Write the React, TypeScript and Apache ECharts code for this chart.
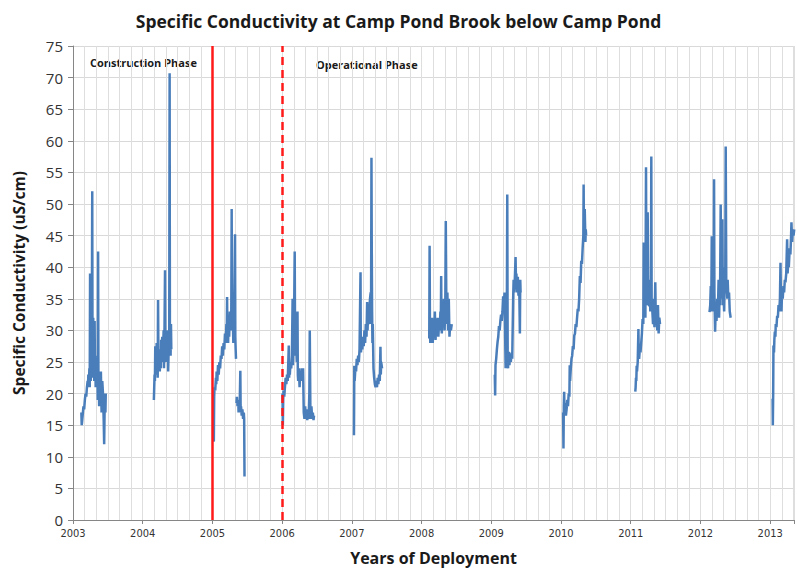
import React, { useEffect, useRef } from "react";
import * as echarts from "echarts";

// Decimal-year time stamps and conductivity (uS/cm), one pair of arrays per deployment season
const t2003 = [2003.12, 2003.125, 2003.13, 2003.15, 2003.16, 2003.17, 2003.18, 2003.19, 2003.2, 2003.21, 2003.215, 2003.22, 2003.23, 2003.235, 2003.24, 2003.245, 2003.25, 2003.255, 2003.26, 2003.265, 2003.27, 2003.276, 2003.28, 2003.285, 2003.29, 2003.295, 2003.3, 2003.305, 2003.31, 2003.315, 2003.32, 2003.325, 2003.33, 2003.345, 2003.35, 2003.355, 2003.36, 2003.365, 2003.37, 2003.375, 2003.38, 2003.39, 2003.4, 2003.41, 2003.42, 2003.43, 2003.44, 2003.447, 2003.455, 2003.46, 2003.465, 2003.47];
const v2003 = [17, 15, 15.5, 18, 17.5, 19, 20, 19.5, 21, 22, 21, 23, 22, 24, 21, 39, 24, 22, 28, 23, 30, 52, 25, 22.5, 32, 24, 27, 22, 31.5, 23, 26, 21, 24, 22, 25, 19, 42.5, 22, 23, 18, 22, 20, 23.5, 17, 22, 20, 16, 12, 19, 20, 17, 20];

const t2004 = [2004.16, 2004.165, 2004.17, 2004.175, 2004.18, 2004.185, 2004.19, 2004.195, 2004.2, 2004.205, 2004.21, 2004.215, 2004.22, 2004.225, 2004.23, 2004.24, 2004.245, 2004.25, 2004.26, 2004.265, 2004.27, 2004.28, 2004.29, 2004.3, 2004.305, 2004.31, 2004.32, 2004.325, 2004.33, 2004.335, 2004.34, 2004.35, 2004.36, 2004.365, 2004.37, 2004.38, 2004.386, 2004.39, 2004.4, 2004.405, 2004.41];
const v2004 = [19, 21, 23, 22, 27.5, 24, 26, 23, 28, 25, 27, 22.5, 34.8, 26, 24, 27, 23.5, 26, 24, 28.5, 25, 29, 26, 30, 24, 27, 39.5, 27, 28, 25, 29, 26, 30, 23.5, 26, 28, 70.7, 29, 26, 31, 27];

const t2005a = [2005.015, 2005.02, 2005.025, 2005.03, 2005.04, 2005.05, 2005.055, 2005.06, 2005.07, 2005.08, 2005.09, 2005.1, 2005.11, 2005.12, 2005.13, 2005.14, 2005.15, 2005.16, 2005.17, 2005.18, 2005.19, 2005.2, 2005.205, 2005.21, 2005.215, 2005.22, 2005.225, 2005.23, 2005.24, 2005.25, 2005.26, 2005.27, 2005.276, 2005.28, 2005.29, 2005.3, 2005.31, 2005.324, 2005.328, 2005.333, 2005.338];
const v2005a = [20, 12.4, 19.5, 21, 20.5, 22.5, 21.5, 23.5, 22, 24.5, 23, 25, 24, 26, 25.5, 27.5, 26, 28, 27, 29.5, 28, 31, 28.5, 35.3, 29, 31, 28, 32, 29, 33, 30, 32, 49.2, 30, 33, 28, 31, 45.2, 29, 27, 25.5];

const t2005b = [2005.345, 2005.35, 2005.36, 2005.37, 2005.375, 2005.38, 2005.39, 2005.4, 2005.405, 2005.41, 2005.42, 2005.43, 2005.44, 2005.45, 2005.455, 2005.46];
const v2005b = [18.5, 19.5, 18, 19, 17, 18.5, 17.5, 23.6, 17, 18, 16.5, 17.5, 16, 17, 16, 6.9];

const t2006 = [2006.005, 2006.01, 2006.015, 2006.02, 2006.03, 2006.04, 2006.05, 2006.06, 2006.07, 2006.08, 2006.095, 2006.1, 2006.105, 2006.11, 2006.12, 2006.13, 2006.14, 2006.15, 2006.155, 2006.16, 2006.17, 2006.18, 2006.185, 2006.19, 2006.2, 2006.21, 2006.22, 2006.225, 2006.23, 2006.24, 2006.25, 2006.26, 2006.27, 2006.28, 2006.29, 2006.3, 2006.31, 2006.32, 2006.33, 2006.34, 2006.35, 2006.36, 2006.37, 2006.38, 2006.39, 2006.396, 2006.405, 2006.41, 2006.42, 2006.43, 2006.44, 2006.45, 2006.457];
const v2006 = [20, 15, 19, 20.5, 19.5, 21, 22.5, 21.5, 23, 22, 27.6, 22.5, 24, 23, 25, 24, 26, 35, 24.5, 27, 31, 42.5, 29, 26, 28, 25, 33, 23, 22, 24, 21, 23.5, 22, 24, 22.5, 24, 17, 16, 18, 16, 17.5, 15.8, 17, 16, 20, 30, 17, 16, 18, 16, 17, 15.8, 16.5];

const t2007 = [2007.03, 2007.035, 2007.04, 2007.05, 2007.06, 2007.07, 2007.08, 2007.09, 2007.1, 2007.11, 2007.124, 2007.128, 2007.13, 2007.14, 2007.15, 2007.16, 2007.17, 2007.18, 2007.19, 2007.2, 2007.21, 2007.219, 2007.225, 2007.23, 2007.24, 2007.25, 2007.26, 2007.27, 2007.275, 2007.281, 2007.285, 2007.29, 2007.295, 2007.3, 2007.31, 2007.32, 2007.33, 2007.34, 2007.35, 2007.36, 2007.37, 2007.38, 2007.39, 2007.4, 2007.41, 2007.415, 2007.42, 2007.433];
const v2007 = [13.4, 24.4, 22, 24, 23.5, 25.5, 24.5, 26, 25, 27, 39.2, 27, 26.5, 28, 27, 29, 27.5, 30, 28, 31, 29, 34.5, 30, 32, 31, 33, 35, 36, 31, 57.3, 43.9, 33, 28, 31, 24, 22.5, 21.5, 21, 22, 21, 22.5, 21.5, 23, 22, 27.4, 23, 25, 24];

const t2008 = [2008.11, 2008.115, 2008.12, 2008.125, 2008.13, 2008.14, 2008.15, 2008.16, 2008.17, 2008.18, 2008.19, 2008.2, 2008.21, 2008.22, 2008.23, 2008.24, 2008.25, 2008.26, 2008.27, 2008.275, 2008.281, 2008.285, 2008.29, 2008.3, 2008.31, 2008.32, 2008.33, 2008.34, 2008.347, 2008.355, 2008.36, 2008.37, 2008.38, 2008.39, 2008.4, 2008.41, 2008.42, 2008.433];
const v2008 = [28.7, 43.4, 30, 28, 31, 29, 32, 28, 30.5, 29, 33, 28.5, 31, 29.5, 32, 29, 31, 30, 33, 30, 38.6, 31, 29.5, 33, 31, 35, 30, 34, 47.3, 34, 31, 36, 30, 35, 29, 31, 30, 31];

const t2009 = [2009.05, 2009.055, 2009.06, 2009.07, 2009.08, 2009.09, 2009.1, 2009.11, 2009.12, 2009.13, 2009.14, 2009.15, 2009.16, 2009.17, 2009.18, 2009.19, 2009.205, 2009.21, 2009.22, 2009.229, 2009.235, 2009.24, 2009.25, 2009.26, 2009.27, 2009.28, 2009.29, 2009.3, 2009.314, 2009.32, 2009.33, 2009.34, 2009.348, 2009.355, 2009.36, 2009.37, 2009.38, 2009.39, 2009.4, 2009.41, 2009.415, 2009.42];
const v2009 = [23, 19.7, 24.5, 25.5, 27, 28.2, 29, 30.7, 30, 31.5, 32.5, 31.5, 33, 35.4, 34, 36, 24, 26, 24.5, 51.5, 25, 24, 26.6, 24.5, 26, 25, 26.5, 25.5, 35.4, 38, 36, 39, 41.6, 37, 39, 36, 38.5, 35.5, 37.5, 29.5, 38, 36];

const t2010 = [2010.03, 2010.035, 2010.04, 2010.045, 2010.05, 2010.06, 2010.07, 2010.08, 2010.09, 2010.1, 2010.11, 2010.12, 2010.125, 2010.13, 2010.14, 2010.15, 2010.16, 2010.17, 2010.18, 2010.19, 2010.2, 2010.21, 2010.22, 2010.23, 2010.24, 2010.25, 2010.26, 2010.27, 2010.28, 2010.29, 2010.3, 2010.31, 2010.32, 2010.324, 2010.33, 2010.34, 2010.35, 2010.355, 2010.36];
const v2010 = [17, 11.3, 18, 20.3, 17, 18.5, 16.5, 17.5, 19, 18, 20, 19.5, 24.5, 22, 24, 25.5, 26, 27.5, 27, 29.2, 29.5, 31, 30.5, 32, 33.4, 33, 35, 38.6, 37.5, 41, 40.5, 43, 45, 53.1, 44, 49.2, 44, 46, 45];

const t2011 = [2011.065, 2011.07, 2011.075, 2011.08, 2011.085, 2011.09, 2011.1, 2011.11, 2011.115, 2011.12, 2011.13, 2011.14, 2011.15, 2011.16, 2011.17, 2011.18, 2011.186, 2011.19, 2011.2, 2011.21, 2011.219, 2011.225, 2011.233, 2011.238, 2011.243, 2011.25, 2011.26, 2011.267, 2011.275, 2011.28, 2011.29, 2011.295, 2011.3, 2011.31, 2011.32, 2011.33, 2011.34, 2011.352, 2011.36, 2011.37, 2011.38, 2011.39, 2011.4, 2011.41, 2011.42];
const v2011 = [20.3, 21, 22.5, 22, 24.4, 23.5, 25, 30.2, 26, 25.5, 27, 26.5, 28, 29.5, 31.8, 31, 43.9, 33, 35, 32, 55.8, 36, 44.9, 34, 48.7, 36, 34, 33.9, 38, 33, 36, 57.5, 34, 33, 31, 35, 30.5, 37.6, 31, 33, 30, 34, 29.5, 32, 31];

const t2012 = [2012.13, 2012.14, 2012.148, 2012.155, 2012.162, 2012.17, 2012.18, 2012.19, 2012.195, 2012.2, 2012.21, 2012.22, 2012.23, 2012.24, 2012.25, 2012.26, 2012.267, 2012.275, 2012.28, 2012.29, 2012.3, 2012.31, 2012.314, 2012.32, 2012.329, 2012.34, 2012.35, 2012.355, 2012.362, 2012.37, 2012.376, 2012.385, 2012.39, 2012.4, 2012.41, 2012.42, 2012.433];
const v2012 = [32.9, 34, 37, 33, 44.9, 35, 33, 38, 53.9, 36, 29.8, 34, 31.5, 35, 33, 38, 32, 36, 34, 49.9, 35, 38, 47.6, 34, 36, 33, 40, 36, 59.1, 38, 37, 35, 38, 35, 36, 33, 32];

const t2013 = [2013.035, 2013.038, 2013.043, 2013.047, 2013.055, 2013.06, 2013.067, 2013.075, 2013.08, 2013.09, 2013.1, 2013.11, 2013.12, 2013.13, 2013.14, 2013.148, 2013.155, 2013.162, 2013.17, 2013.18, 2013.19, 2013.2, 2013.21, 2013.219, 2013.23, 2013.243, 2013.25, 2013.26, 2013.267, 2013.28, 2013.29, 2013.3, 2013.305, 2013.315, 2013.325, 2013.335, 2013.345];
const v2013 = [19.2, 15, 20, 27.6, 26.5, 28.5, 29.8, 29, 31, 30.5, 32.3, 32, 34, 33, 35, 40.7, 34, 33, 36, 35, 37, 36, 38, 37.6, 39, 44.4, 39, 41, 40, 43, 42, 45, 47.1, 44, 46, 45, 46];

const seasons: [number[], number[]][] = [
  [t2003, v2003], [t2004, v2004], [t2005a, v2005a], [t2005b, v2005b], [t2006, v2006],
  [t2007, v2007], [t2008, v2008], [t2009, v2009], [t2010, v2010], [t2011, v2011],
  [t2012, v2012], [t2013, v2013],
];

const yearLabels = ["2003", "2004", "2005", "2006", "2007", "2008", "2009", "2010", "2011", "2012", "2013"];
const constructionStartYear = 2005;
const operationStartYear = 2006;
const baseYear = 2003;

const toMonths = (y: number) => (y - baseYear) * 12;

export default function App() {
  const ref = useRef<HTMLDivElement>(null);
  useEffect(() => {
    if (!ref.current) return;
    const chart = echarts.init(ref.current, null, { renderer: "svg" });
    const lineColor = "#4a7ebb";
    const series: any[] = seasons.map(([ts, vs], i) => ({
      type: "line",
      xAxisIndex: 0,
      yAxisIndex: 0,
      showSymbol: false,
      symbol: "none",
      clip: true,
      lineStyle: { color: lineColor, width: 2.5 },
      data: ts.map((t, k) => [toMonths(t), vs[k]]),
      z: 3,
      ...(i === 0
        ? {
            markLine: {
              silent: true,
              symbol: "none",
              label: { show: false },
              z: 4,
              data: [
                { xAxis: toMonths(constructionStartYear), lineStyle: { color: "#ff1a1a", width: 2.5, type: "solid" } },
                { xAxis: toMonths(operationStartYear), lineStyle: { color: "#ff1a1a", width: 2.5, type: [8, 5] } },
              ],
            },
          }
        : {}),
    }));

    chart.setOption({
      animation: false,
      backgroundColor: "#ffffff",
      title: {
        text: "Specific Conductivity at Camp Pond Brook below Camp Pond",
        left: "center",
        top: 7,
        textStyle: { fontFamily: "Open Sans", fontWeight: "bold", fontSize: 17.5, color: "#1a1a1a" },
      },
      grid: { left: 73, right: 0, top: 46, bottom: 49, containLabel: false },
      xAxis: [
        {
          type: "value",
          min: 0,
          max: 124.1,
          interval: 12,
          name: "Years of Deployment",
          nameLocation: "middle",
          nameGap: 30,
          nameTextStyle: { fontFamily: "Open Sans", fontWeight: "bold", fontSize: 16, color: "#1a1a1a" },
          axisLine: { show: true, lineStyle: { color: "#868686", width: 1 } },
          axisTick: { show: true, length: 4, lineStyle: { color: "#868686" } },
          axisLabel: {
            margin: 8,
            fontFamily: "Liberation Sans Narrow, DejaVu Sans Condensed, sans-serif",
            fontSize: 11,
            color: "#333",
            showMaxLabel: true,
            formatter: (v: number) => {
              const idx = Math.round(v / 12);
              return Math.abs(v - idx * 12) < 1e-6 && idx < yearLabels.length ? yearLabels[idx] : "";
            },
          },
          splitLine: { show: true, lineStyle: { color: "#d9d9d9", width: 1 } },
        },
        {
          type: "value",
          min: 0,
          max: 124.1,
          interval: 2,
          position: "bottom",
          axisLine: { show: false },
          axisTick: { show: false },
          axisLabel: { show: false },
          splitLine: { show: true, lineStyle: { color: "#dedede", width: 1 } },
        },
      ],
      yAxis: {
        type: "value",
        min: 0,
        max: 75,
        interval: 5,
        name: "Specific Conductivity (uS/cm)",
        nameLocation: "middle",
        nameGap: 46,
        nameRotate: 90,
        nameTextStyle: { fontFamily: "Open Sans", fontWeight: "bold", fontSize: 15.5, color: "#1a1a1a" },
        axisLine: { show: true, lineStyle: { color: "#868686", width: 1 } },
        axisTick: { show: true, length: 5, lineStyle: { color: "#868686" } },
        axisLabel: { margin: 10, fontFamily: "Open Sans", fontSize: 15, color: "#333" },
        splitLine: { show: true, lineStyle: { color: "#d9d9d9", width: 1 } },
      },
      graphic: [
        {
          type: "text",
          left: 90,
          top: 57,
          style: { text: "Construction Phase", font: "bold 11px 'Open Sans'", fill: "#1a1a1a" },
        },
        {
          type: "text",
          left: 316,
          top: 59,
          style: { text: "Operational Phase", font: "bold 11px 'Open Sans'", fill: "#1a1a1a" },
        },
      ],
      series,
    });
    return () => chart.dispose();
  }, []);
  return <div ref={ref} style={{ position: "absolute", left: 0, top: 0, width: 797, height: 571 }} />;
}
